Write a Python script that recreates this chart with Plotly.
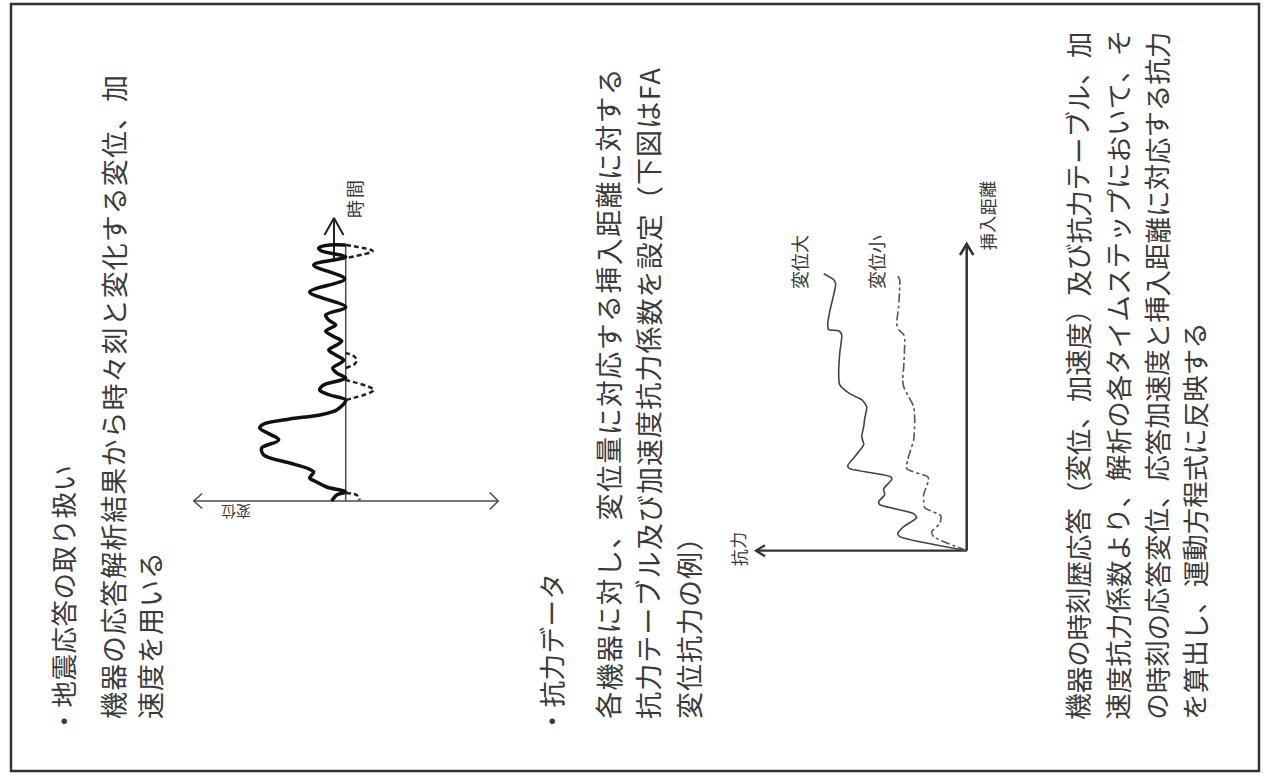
import plotly.graph_objects as go

W, H = 1265, 780
INK = "#3a3a3a"
AXIS = "#4a4a4a"
JP_FONT = "Noto Sans CJK JP"

# --- text (page is rotated: every line reads bottom -> top) ---
SECTION_1 = [
    "・地震応答の取り扱い",
    "機器の応答解析結果から時々刻と変化する変位、加",
    "速度を用いる",
]
SECTION_2 = [
    "・抗力データ",
    "各機器に対し、変位量に対応する挿入距離に対する",
    "抗力テーブル及び加速度抗力係数を設定（下図はFA",
    "変位抗力の例）",
]
SECTION_3 = [
    "機器の時刻歴応答（変位、加速度）及び抗力テーブル、加",
    "速度抗力係数より、解析の各タイムステップにおいて、そ",
    "の時刻の応答変位、応答加速度と挿入距離に対応する抗力",
    "を算出し、運動方程式に反映する",
]

# --- diagram 1: response time history (t = time, d = displacement) ---
RESP_T = [0, 6, 9, 14, 19, 23, 29, 33, 38, 46, 53, 61, 73, 77, 82, 86, 91, 101,
          106, 111, 116, 120, 123, 128, 133, 138, 141, 146, 151, 156, 160, 165,
          170, 176, 181, 186, 194, 209, 222, 236, 244, 250, 253, 256, 256]
RESP_D = [-14, -9, 0, -19, -29, -36, -32, -39, -56, -82, -84, -67, -86, -82, -56,
          -26, -9, 0, -16, -26, -22, -8, 0, -9, -13, -5, -2, -10, -17, -9, -4,
          -13, -20, -10, -17, -20, 0, -36, -1, -32, 0, -24, -27, -16, 0]
# dashed excursions beyond the axis
OVER_T = [8, 6, 1, None, 101, 111, 121, None, 133, 137, 141, 145, 148, None, 256, 250, 243]
OVER_D = [0, 11, 14, None, 0, 28, 0, None, 0, 9, 11, 8, 0, None, 0, 27, 0]

# --- diagram 2: resistance force F vs insertion distance s ---
LARGE_S = [0, 14, 17, 24, 33, 37, 46, 49, 56, 62, 71, 74, 82, 85, 94, 106, 114,
           124, 132, 144, 151, 157, 166, 177, 197, 216, 220, 221, 226, 239, 256,
           267, 271, 277]
LARGE_F = [0, 67, 69, 63, 50, 53, 87, 88, 82, 83, 75, 76, 117, 119, 112, 103, 105,
           103, 102, 100, 105, 117, 127, 128, 127, 125, 128, 138, 139, 137, 133,
           131, 133, 143]
SMALL_S = [0, 14, 19, 27, 35, 43, 49, 56, 71, 74, 82, 91, 111, 131, 144, 154, 164,
           171, 184, 211, 216, 221, 227, 244, 264, 271, 276]
SMALL_F = [0, 33, 35, 27, 26, 42, 43, 43, 38, 39, 60, 59, 53, 52, 53, 58, 63, 64,
           63, 62, 63, 68, 70, 68, 67, 67, 70]


def px(x, y):
    return x / W, 1 - y / H


def chevron(tip_x, tip_y, dx, dy, horizontal):
    if horizontal:
        return [tip_x + dx, tip_x, tip_x + dx], [tip_y + dy, tip_y, tip_y - dy]
    return [tip_x - dx, tip_x, tip_x + dx], [tip_y + dy, tip_y, tip_y + dy]


fig = go.Figure()

# diagram 1 axes / arrows
d1 = dict(xaxis="x", yaxis="y", showlegend=False, hoverinfo="skip", mode="lines")
fig.add_trace(go.Scatter(x=[-152, 152.5], y=[0, 0], line=dict(color=AXIS, width=1.5), **d1))
for cx, cy in (chevron(-152, 0, 8.5, 7.5, True), chevron(152.5, 0, -8.5, 8.5, True)):
    fig.add_trace(go.Scatter(x=cx, y=cy, line=dict(color=AXIS, width=1.5), **d1))
fig.add_trace(go.Scatter(x=[0, 0], y=[0, 256], line=dict(color=AXIS, width=1.5), **d1))
fig.add_trace(go.Scatter(x=[-11.7, -11.7], y=[241, 283], line=dict(color="#222", width=2), **d1))
cx, cy = chevron(-11.7, 283, 9.5, -17, False)
fig.add_trace(go.Scatter(x=cx, y=cy, line=dict(color="#222", width=2), **d1))

fig.add_trace(go.Scatter(x=RESP_D, y=RESP_T, line=dict(color="#111", width=3.5, shape="spline", smoothing=0.9), **d1))
fig.add_trace(go.Scatter(x=OVER_D, y=OVER_T, line=dict(color="#222", width=2.5, dash="5px,3px", shape="spline", smoothing=0.9), **d1))

# diagram 2 axes / curves
d2 = dict(xaxis="x2", yaxis="y2", showlegend=False, hoverinfo="skip", mode="lines")
fig.add_trace(go.Scatter(x=[0, 0], y=[0, 306.7], line=dict(color="#333", width=2.5), **d2))
cx, cy = chevron(0, 306.7, 6.7, -11, False)
fig.add_trace(go.Scatter(x=cx, y=cy, line=dict(color="#333", width=2.5), **d2))
fig.add_trace(go.Scatter(x=[0, 210.7], y=[0, 0], line=dict(color="#333", width=2.2), **d2))
cx, cy = chevron(210.7, 0, -9, 5.5, True)
fig.add_trace(go.Scatter(x=cx, y=cy, line=dict(color="#333", width=2.2), **d2))
fig.add_trace(go.Scatter(x=LARGE_F, y=LARGE_S, line=dict(color="#444", width=1.6, shape="spline", smoothing=0.6), **d2))
fig.add_trace(go.Scatter(x=SMALL_F, y=SMALL_S, line=dict(color="#555", width=1.6, dash="dashdot", shape="spline", smoothing=0.6), **d2))

# --- text annotations ---
annotations = []


def glyph(text, x, y, size, angle=-90):
    ax, ay = px(x, y)
    annotations.append(dict(
        text=text, x=ax, y=ay, xref="paper", yref="paper", showarrow=False,
        textangle=angle, xanchor="center", yanchor="middle",
        font=dict(family=JP_FONT, size=size, color=INK),
    ))


def line(text, x, y_bottom, size, pitch=None, top=None):
    # lay characters one by one so justified lines fill the column like the scan
    units = [0.6 if ord(c) < 128 else 1.0 for c in text]
    if top is not None:
        pitch = (y_bottom - top) / sum(units)
    pitch = pitch or size
    y = y_bottom
    for c, u in zip(text, units):
        glyph(c, x, y - u * pitch / 2, size)
        y -= u * pitch


BODY = 26.5
line(SECTION_1[0], 62, 735, BODY, pitch=27)
line(SECTION_1[1], 113, 720, 27, top=75)
line(SECTION_1[2], 149, 720, 27, pitch=28)

line(SECTION_2[0], 550, 735, BODY, pitch=27)
line(SECTION_2[1], 608, 720, 27, top=68)
line(SECTION_2[2], 648, 720, 27, top=68)
line(SECTION_2[3], 688, 720, 27, pitch=28)

line(SECTION_3[0], 1077, 720, BODY, top=32)
line(SECTION_3[1], 1117, 720, BODY, top=30)
line(SECTION_3[2], 1156, 720, BODY, top=32)
line(SECTION_3[3], 1194, 720, BODY, pitch=26.5)

line("時間", 354, 219, 18, pitch=20)
glyph("変位", 236, 513, 15, angle=180)
line("変位大", 799, 289, 18, pitch=18)
line("変位小", 876, 289, 18, pitch=18)
line("挿入距離", 987, 251, 17, pitch=17.5)
line("抗力", 738, 567, 17, pitch=17.5)

# domains mapped so one data unit == one pixel
o1x, o1y = 345.7, 501
o2x, o2y = 966.7, 550.7
layout_axes = dict(
    xaxis=dict(domain=[185 / W, 510 / W], range=[185 - o1x, 510 - o1x], visible=False),
    yaxis=dict(domain=[1 - 520 / H, 1 - 200 / H], range=[o1y - 520, o1y - 200], visible=False),
    xaxis2=dict(domain=[745 / W, 985 / W], range=[o2x - 745, o2x - 985], visible=False),
    yaxis2=dict(domain=[1 - 565 / H, 1 - 235 / H], range=[o2y - 565, o2y - 235], visible=False),
)

x0, y0 = px(11, 4)
x1, y1 = px(1259, 771)
fig.update_layout(
    width=W, height=H,
    margin=dict(l=0, r=0, t=0, b=0),
    paper_bgcolor="white", plot_bgcolor="white",
    annotations=annotations,
    shapes=[dict(type="rect", xref="paper", yref="paper", x0=x0, y0=y1, x1=x1, y1=y0,
                 line=dict(color="#333", width=2.5))],
    **layout_axes,
)

fig.write_html("out.html", config={"displayModeBar": False},
               post_script="document.body.style.margin='0';document.body.style.overflow='hidden';")
